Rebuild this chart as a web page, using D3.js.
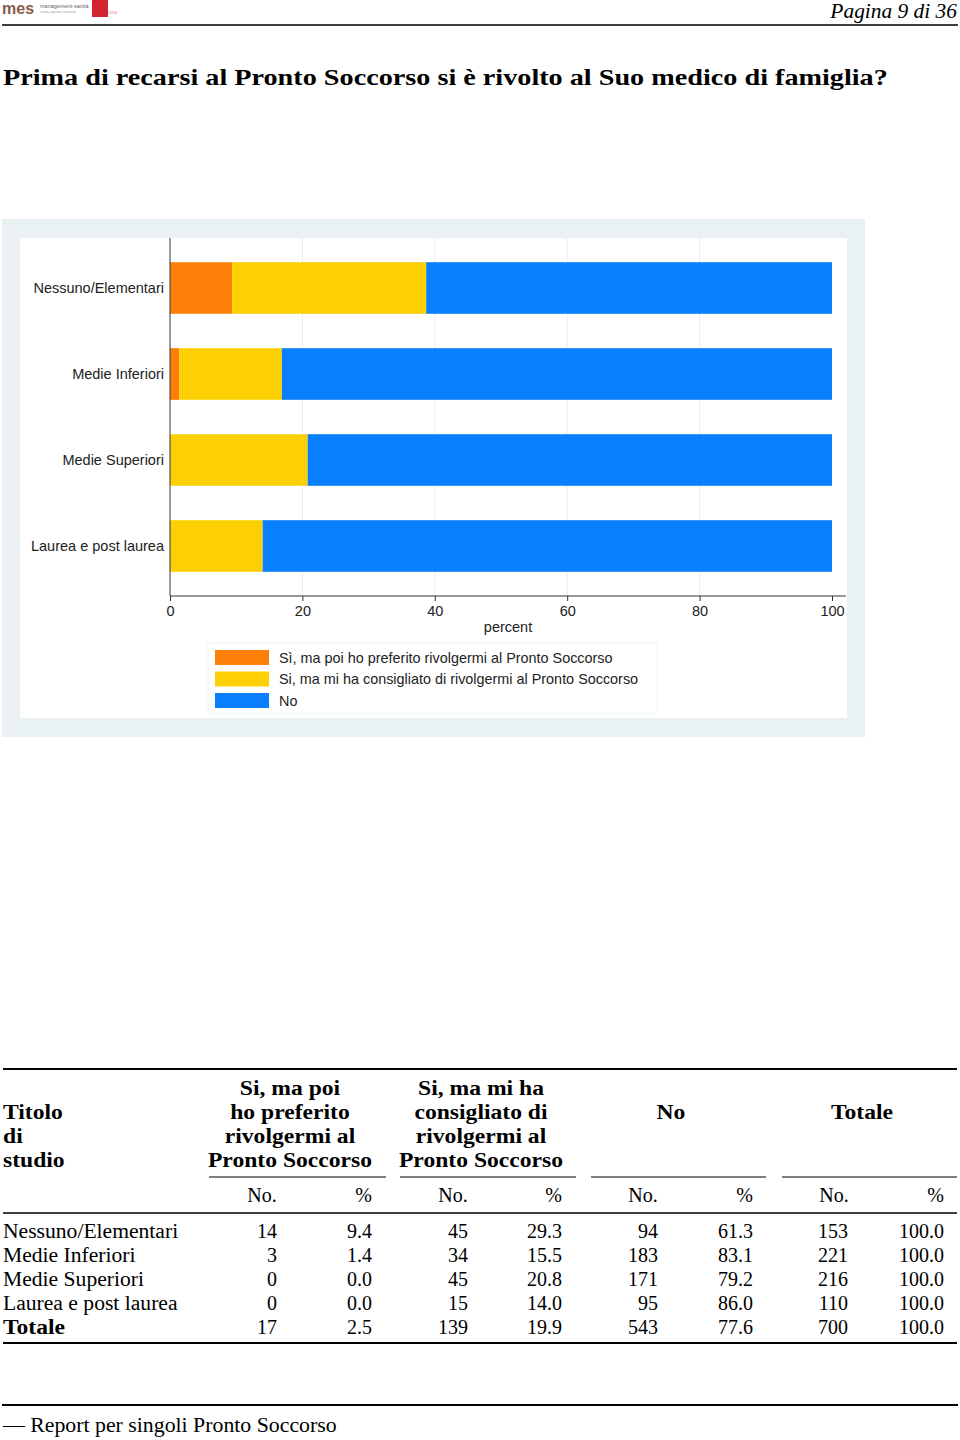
<!DOCTYPE html>
<html>
<head>
<meta charset="utf-8">
<script src="https://cdn.jsdelivr.net/npm/d3@7"></script>
<style>
  html, body { margin: 0; padding: 0; background: #fff; }
  svg { display: block; }
</style>
</head>
<body>
<svg id="page" width="960" height="1440"></svg>
<script>
// ---------------- DATA ----------------
const categories = ["Nessuno/Elementari", "Medie Inferiori", "Medie Superiori", "Laurea e post laurea"];
const seriesNames = [
  "Sì, ma poi ho preferito rivolgermi al Pronto Soccorso",
  "Si, ma mi ha consigliato di rivolgermi al Pronto Soccorso",
  "No"
];
const pctPreferito = [9.4, 1.4, 0.0, 0.0];
const pctConsigliato = [29.3, 15.5, 20.8, 14.0];
const pctNo = [61.3, 83.1, 79.2, 86.0];
const xTicks = [0, 20, 40, 60, 80, 100];
const seriesColors = ["#fb7f08", "#fdd003", "#0a7ffd"];

// table
const tableRows = ["Nessuno/Elementari", "Medie Inferiori", "Medie Superiori", "Laurea e post laurea", "Totale"];
const nPreferito = [14, 3, 0, 0, 17];
const pPreferito = [9.4, 1.4, 0.0, 0.0, 2.5];
const nConsigliato = [45, 34, 45, 15, 139];
const pConsigliato = [29.3, 15.5, 20.8, 14.0, 19.9];
const nNo = [94, 183, 171, 95, 543];
const pNo = [61.3, 83.1, 79.2, 86.0, 77.6];
const nTot = [153, 221, 216, 110, 700];
const pTot = [100.0, 100.0, 100.0, 100.0, 100.0];
const groupHeaders = [
  ["Si, ma poi", "ho preferito", "rivolgermi al", "Pronto Soccorso"],
  ["Si, ma mi ha", "consigliato di", "rivolgermi al", "Pronto Soccorso"],
  ["No"],
  ["Totale"]
];

// ---------------- DRAW ----------------
const svg = d3.select("#page");
const serif = "'Liberation Serif', 'DejaVu Serif', serif";
const sans = "'Liberation Sans', Arial, sans-serif";

// widen serif text a little, to approach the wider Computer Modern look
function stretch(sel, factor) {
  sel.each(function () {
    const w = this.getComputedTextLength();
    d3.select(this).attr("textLength", w * factor).attr("lengthAdjust", "spacingAndGlyphs");
  });
  return sel;
}

// ---- page header ----
const logo = svg.append("g");
logo.append("text").attr("x", 2).attr("y", 14).attr("font-family", sans).attr("font-weight", "bold")
  .attr("font-size", 16).attr("fill", "#8a5a4a").text("mes");
logo.append("text").attr("x", 40).attr("y", 8).attr("font-family", sans)
  .attr("font-size", 5.5).attr("fill", "#666").text("management-sanità");
logo.append("text").attr("x", 40).attr("y", 13).attr("font-family", sans)
  .attr("font-size", 3).attr("fill", "#999").text("scuola superiore sant'anna");
logo.append("rect").attr("x", 92).attr("y", 0).attr("width", 16).attr("height", 17).attr("fill", "#d2242e");
logo.append("text").attr("x", 108).attr("y", 14).attr("font-family", sans)
  .attr("font-size", 5).attr("fill", "#e79aa0").text("pisa");

stretch(svg.append("text").attr("x", 957).attr("y", 18).attr("text-anchor", "end")
  .attr("font-family", serif).attr("font-style", "italic").attr("font-size", 20)
  .text("Pagina 9 di 36"), 1.07);
svg.append("line").attr("x1", 2).attr("x2", 958).attr("y1", 25).attr("y2", 25)
  .attr("stroke", "#000").attr("stroke-width", 1.6);

// title
stretch(svg.append("text").attr("x", 3).attr("y", 85)
  .attr("font-family", serif).attr("font-weight", "bold").attr("font-size", 23.5)
  .text("Prima di recarsi al Pronto Soccorso si è rivolto al Suo medico di famiglia?"), 1.2);

// ---- chart ----
const chart = svg.append("g");
chart.append("rect").attr("x", 2).attr("y", 219).attr("width", 863).attr("height", 518).attr("fill", "#eaf1f3");
chart.append("rect").attr("x", 20).attr("y", 238).attr("width", 827).attr("height", 480).attr("fill", "#ffffff");

const plotTop = 238, plotBottom = 596;
const x = d3.scaleLinear().domain([0, 100]).range([170, 832]);
const y = d3.scaleBand().domain(categories).range([245, 589]).paddingInner(0.4).paddingOuter(0.2);

// gridlines
chart.append("g").selectAll("line").data(xTicks.filter(t => t > 0 && t < 100)).join("line")
  .attr("x1", d => x(d)).attr("x2", d => x(d)).attr("y1", plotTop).attr("y2", plotBottom)
  .attr("stroke", "#e6eef1").attr("stroke-width", 1);

// stacked bars
const stackData = categories.map((c, i) => ({ cat: c, a: pctPreferito[i], b: pctConsigliato[i], c: pctNo[i] }));
const stack = d3.stack().keys(["a", "b", "c"])(stackData);
chart.append("g").selectAll("g").data(stack).join("g")
  .attr("fill", (d, i) => seriesColors[i])
  .selectAll("rect").data(d => d).join("rect")
  .attr("x", d => x(d[0])).attr("width", d => Math.max(0, x(d[1]) - x(d[0])))
  .attr("y", d => y(d.data.cat)).attr("height", y.bandwidth());

// y-axis
const yAxis = chart.append("g").attr("transform", "translate(170,0)")
  .call(d3.axisLeft(y).tickSize(0).tickPadding(6));
yAxis.select(".domain").remove();
yAxis.append("line").attr("x1", 0).attr("x2", 0).attr("y1", plotTop).attr("y2", plotBottom)
  .attr("stroke", "#333").attr("stroke-width", 1);
yAxis.selectAll("text").attr("font-family", sans).attr("font-size", 14.5).attr("fill", "#222");

// x-axis
const xAxis = chart.append("g").attr("transform", `translate(0,${plotBottom})`)
  .call(d3.axisBottom(x).tickValues(xTicks).tickFormat(d3.format("d")).tickSize(5).tickPadding(5));
xAxis.select(".domain").remove();
xAxis.append("line").attr("x1", 170).attr("x2", 846).attr("y1", 0).attr("y2", 0)
  .attr("stroke", "#333").attr("stroke-width", 1);
xAxis.selectAll(".tick line").attr("stroke", "#333");
xAxis.selectAll("text").attr("font-family", sans).attr("font-size", 14.5).attr("fill", "#222");
chart.append("text").attr("x", (x(0) + x(100)) / 2 + 7).attr("y", 632).attr("text-anchor", "middle")
  .attr("font-family", sans).attr("font-size", 14.5).attr("fill", "#222").text("percent");

// legend
const legend = chart.append("g");
legend.append("rect").attr("x", 208).attr("y", 643).attr("width", 449).attr("height", 70)
  .attr("fill", "#fff").attr("stroke", "#eef3f5").attr("stroke-width", 1);
const li = legend.selectAll("g.item").data(seriesNames).join("g").attr("class", "item")
  .attr("transform", (d, i) => `translate(215,${650 + i * 21.5})`);
li.append("rect").attr("width", 54).attr("height", 15).attr("fill", (d, i) => seriesColors[i]);
li.append("text").attr("x", 64).attr("y", 12.5).attr("font-family", sans).attr("font-size", 14.4)
  .attr("fill", "#222").text(d => d);

// ---- table ----
const tbl = svg.append("g").attr("font-family", serif).attr("font-size", 20).attr("fill", "#000");
const rule = (y1, x1, x2, w) => tbl.append("line").attr("x1", x1).attr("x2", x2).attr("y1", y1).attr("y2", y1)
  .attr("stroke", "#000").attr("stroke-width", w);
rule(1069, 3, 957, 2.2);

["Titolo", "di", "studio"].forEach((t, i) => {
  stretch(tbl.append("text").attr("x", 3).attr("y", 1119 + i * 24).attr("font-weight", "bold").text(t), 1.18);
});
const groupCenters = [290, 481, 671, 862];
const groupSpans = [[209, 386], [400, 576], [591, 766], [782, 957]];
groupHeaders.forEach((lines, g) => {
  const startY = lines.length === 4 ? 1095 : 1119;
  lines.forEach((t, i) => {
    stretch(tbl.append("text").attr("x", groupCenters[g]).attr("y", startY + i * 24).attr("text-anchor", "middle")
      .attr("font-weight", "bold").text(t), 1.18);
  });
  rule(1177, groupSpans[g][0], groupSpans[g][1], 1.1);
});
const noRight = [277, 468, 658, 848];
const pctRight = [372, 562, 753, 944];
noRight.forEach((r, g) => {
  tbl.append("text").attr("x", groupCenters[g] - 28).attr("y", 1202).attr("text-anchor", "middle").text("No.");
  tbl.append("text").attr("x", pctRight[g]).attr("y", 1202).attr("text-anchor", "end").text("%");
});
rule(1213, 3, 957, 1.6);

const colsN = [nPreferito, nConsigliato, nNo, nTot];
const colsP = [pPreferito, pConsigliato, pNo, pTot];
tableRows.forEach((name, r) => {
  const yy = 1238 + r * 24;
  const bold = r === tableRows.length - 1;
  stretch(tbl.append("text").attr("x", 3).attr("y", yy).attr("font-weight", bold ? "bold" : "normal").text(name),
    bold ? 1.18 : 1.08);
  colsN.forEach((arr, g) => {
    tbl.append("text").attr("x", noRight[g]).attr("y", yy).attr("text-anchor", "end").text(arr[r]);
    tbl.append("text").attr("x", pctRight[g]).attr("y", yy).attr("text-anchor", "end")
      .text(d3.format(".1f")(colsP[g][r]));
  });
});
rule(1343, 3, 957, 2.2);

// footer
svg.append("line").attr("x1", 2).attr("x2", 958).attr("y1", 1405).attr("y2", 1405)
  .attr("stroke", "#000").attr("stroke-width", 1.8);
stretch(svg.append("text").attr("x", 3).attr("y", 1432).attr("font-family", serif).attr("font-size", 20)
  .text("— Report per singoli Pronto Soccorso"), 1.09);
</script>
</body>
</html>
